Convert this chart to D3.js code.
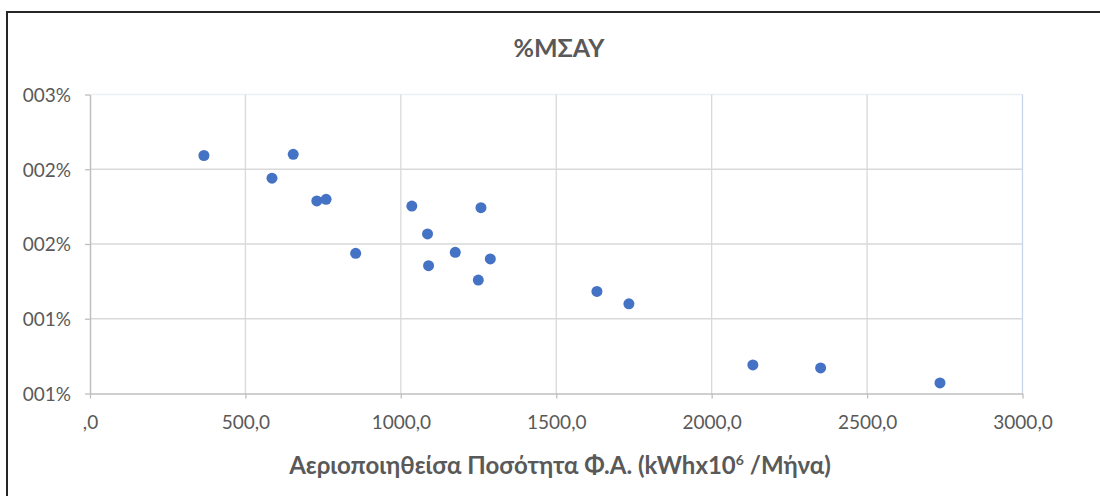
<!DOCTYPE html>
<html>
<head>
<meta charset="utf-8">
<script src="https://cdn.jsdelivr.net/npm/d3@7"></script>
<style>
  html, body { margin: 0; padding: 0; background: #ffffff; }
  svg { display: block; font-family: Lato, "Open Sans", sans-serif; }
</style>
</head>
<body>
<svg id="chart"></svg>
<script>
// gas quantity (kWh x10^6 / month) vs %ΜΣΑΥ
const gasQuantity = [366.5, 585.5, 653.8, 729.7, 759.6, 854.7, 1035.4, 1085.9, 1089.2,
  1175.1, 1249.2, 1257.8, 1287.9, 1630.9, 1733.7, 2132.5, 2350.5, 2734.5];
const msayShare = [2.092, 1.940, 2.100, 1.788, 1.799, 1.438, 1.754, 1.567, 1.355,
  1.444, 1.259, 1.743, 1.400, 1.183, 1.100, 0.691, 0.671, 0.571];

const xTicks = [0, 500, 1000, 1500, 2000, 2500, 3000];
const xTickLabels = [',0', '500,0', '1000,0', '1500,0', '2000,0', '2500,0', '3000,0'];
const yTicks = [0.5, 1, 1.5, 2, 2.5];
const yTickLabels = ['001%', '001%', '002%', '002%', '003%'];

const chartTitle = '%ΜΣΑΥ';

const WIDTH = 1100;
const HEIGHT = 496;
const PLOT = {left: 90, right: 1022.5, top: 94.5, bottom: 393.5};

const svg = d3.select('#chart')
  .attr('width', WIDTH)
  .attr('height', HEIGHT);

// outer frame (only left and top edges are inside the picture)
svg.append('rect')
  .attr('x', 7)
  .attr('y', 12)
  .attr('width', WIDTH + 20)
  .attr('height', HEIGHT + 20)
  .attr('fill', '#ffffff')
  .attr('stroke', '#262626')
  .attr('stroke-width', 2);

const x = d3.scaleLinear().domain([0, 3000]).range([PLOT.left, PLOT.right]);
const y = d3.scaleLinear().domain([0.5, 2.5]).range([PLOT.bottom, PLOT.top]);

// gridlines
svg.append('g')
  .selectAll('line')
  .data(yTicks.slice(1))
  .join('line')
  .attr('x1', PLOT.left)
  .attr('x2', PLOT.right)
  .attr('y1', d => y(d))
  .attr('y2', d => y(d))
  .attr('stroke', d => d === 2.5 ? '#eceff4' : '#d9d9d9')
  .attr('stroke-width', 1.3);

svg.append('g')
  .selectAll('line')
  .data(xTicks.slice(1))
  .join('line')
  .attr('x1', d => x(d))
  .attr('x2', d => x(d))
  .attr('y1', PLOT.top)
  .attr('y2', PLOT.bottom)
  .attr('stroke', d => d === 3000 ? '#c6d4ed' : '#d9d9d9')
  .attr('stroke-width', 1.3);

// axes
const xAxis = svg.append('g')
  .attr('transform', `translate(0,${PLOT.bottom})`)
  .call(d3.axisBottom(x).tickValues(xTicks)
    .tickFormat((d, i) => xTickLabels[i]).tickSize(5).tickPadding(17).tickSizeOuter(0));

const yAxis = svg.append('g')
  .attr('transform', `translate(${PLOT.left},0)`)
  .call(d3.axisLeft(y).tickValues(yTicks)
    .tickFormat((d, i) => yTickLabels[i]).tickSize(5).tickPadding(14).tickSizeOuter(0));

[xAxis, yAxis].forEach(ax => {
  ax.select('.domain').attr('stroke', '#bfbfbf').attr('stroke-width', 1.5);
  ax.selectAll('.tick line').attr('stroke', '#bfbfbf').attr('stroke-width', 1.3);
  ax.selectAll('.tick text')
    .attr('fill', '#595959')
    .style('font-size', '19px')
    .style('font-family', 'Lato, "Open Sans", sans-serif');
});
yAxis.selectAll('.tick text').attr('dy', '0.36em');

// points
svg.append('g')
  .selectAll('circle')
  .data(gasQuantity.map((g, i) => ({g: g, m: msayShare[i]})))
  .join('circle')
  .attr('cx', d => x(d.g))
  .attr('cy', d => y(d.m))
  .attr('r', 5.5)
  .attr('fill', '#4472c4');

// title
svg.append('text')
  .attr('x', 559)
  .attr('y', 57)
  .attr('text-anchor', 'middle')
  .attr('fill', '#595959')
  .style('font-size', '25px')
  .style('font-weight', 'bold')
  .text(chartTitle);

// x axis title with superscript
const xTitle = svg.append('text')
  .attr('x', 560)
  .attr('y', 474)
  .attr('text-anchor', 'middle')
  .attr('fill', '#595959')
  .style('font-size', '24px')
  .style('font-weight', 'bold');
xTitle.append('tspan').text('Αεριοποιηθείσα Ποσότητα Φ.Α. (kWhx10');
xTitle.append('tspan').attr('dy', -9).style('font-size', '14px').text('6');
xTitle.append('tspan').attr('dy', 9).text(' /Μήνα)');
</script>
</body>
</html>
